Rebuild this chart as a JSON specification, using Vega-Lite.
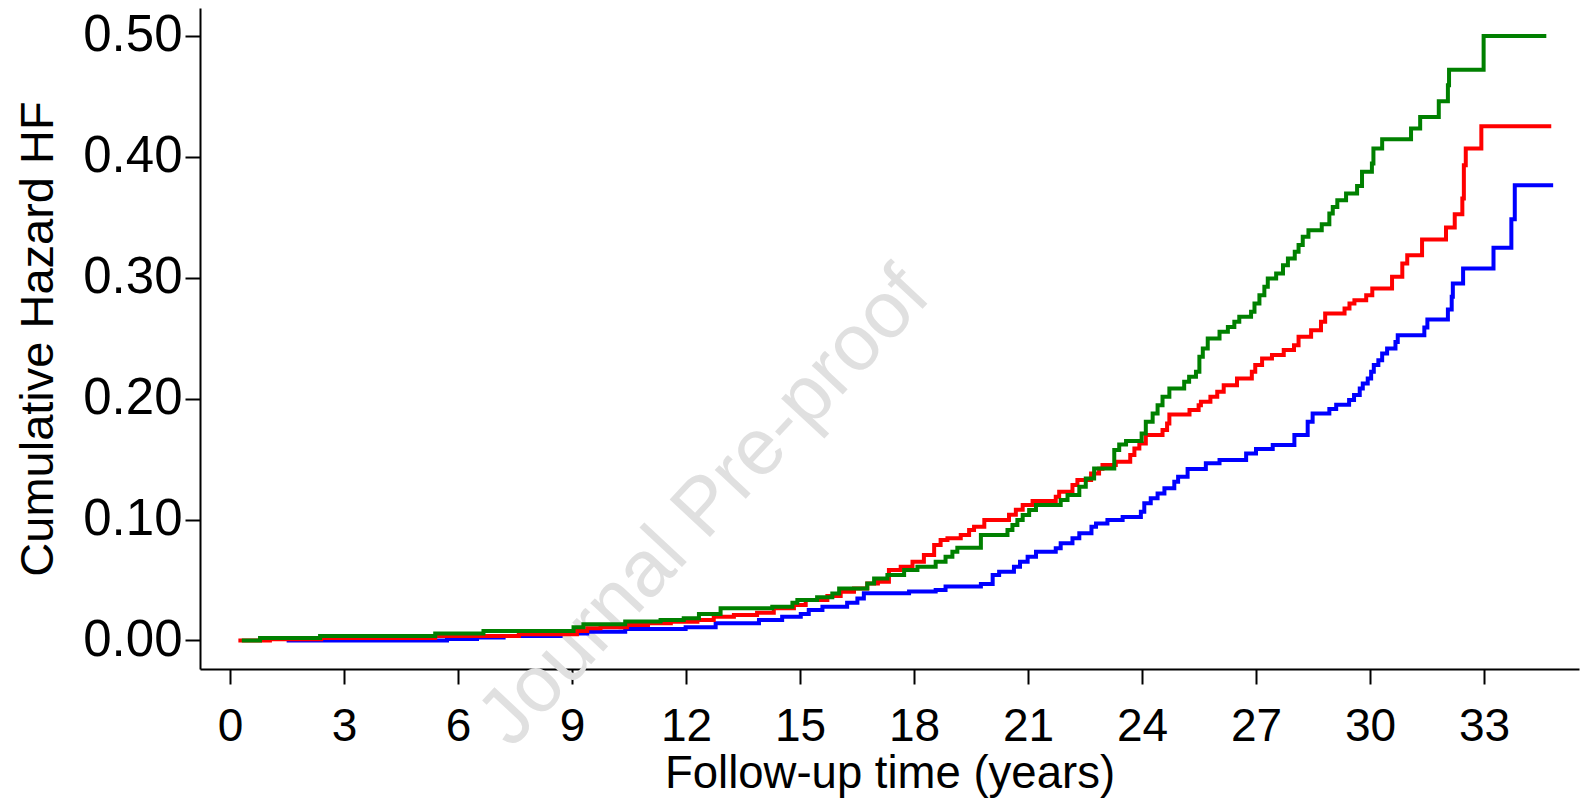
{
  "$schema": "https://vega.github.io/schema/vega-lite/v6.json",
  "width": 1379,
  "height": 661,
  "autosize": "none",
  "padding": {"left": 200, "top": 8, "right": 10, "bottom": 131},
  "background": "white",
  "config": {
    "view": {"stroke": null},
    "axis": {
      "grid": false,
      "domainColor": "black",
      "domainWidth": 2,
      "tickColor": "black",
      "tickWidth": 2,
      "tickSize": 15,
      "labelFont": "Liberation Sans",
      "labelFontSize": 46,
      "labelColor": "black",
      "titleFont": "Liberation Sans",
      "titleFontSize": 46,
      "titleFontWeight": "normal",
      "titleColor": "black"
    }
  },
  "datasets": {
    "curves": [
      {"g": "A", "t": 1.49, "v": 0},
      {"g": "A", "t": 5.71, "v": 0.0013},
      {"g": "A", "t": 6.5, "v": 0.0025},
      {"g": "A", "t": 7.2, "v": 0.0037},
      {"g": "A", "t": 8.7, "v": 0.0058},
      {"g": "A", "t": 9.4, "v": 0.0073},
      {"g": "A", "t": 10.4, "v": 0.0095},
      {"g": "A", "t": 11.99, "v": 0.0109},
      {"g": "A", "t": 12.78, "v": 0.0142},
      {"g": "A", "t": 13.92, "v": 0.0169},
      {"g": "A", "t": 14.53, "v": 0.0197},
      {"g": "A", "t": 15.02, "v": 0.0219},
      {"g": "A", "t": 15.23, "v": 0.0252},
      {"g": "A", "t": 15.59, "v": 0.0279},
      {"g": "A", "t": 16.24, "v": 0.0312},
      {"g": "A", "t": 16.51, "v": 0.0348},
      {"g": "A", "t": 16.68, "v": 0.039},
      {"g": "A", "t": 17.87, "v": 0.0404},
      {"g": "A", "t": 18.57, "v": 0.0418},
      {"g": "A", "t": 18.83, "v": 0.0446},
      {"g": "A", "t": 19.76, "v": 0.0467},
      {"g": "A", "t": 20.07, "v": 0.0541},
      {"g": "A", "t": 20.24, "v": 0.0569},
      {"g": "A", "t": 20.63, "v": 0.061},
      {"g": "A", "t": 20.79, "v": 0.0651},
      {"g": "A", "t": 20.99, "v": 0.0693},
      {"g": "A", "t": 21.21, "v": 0.0734},
      {"g": "A", "t": 21.73, "v": 0.0762},
      {"g": "A", "t": 21.86, "v": 0.0803},
      {"g": "A", "t": 22.17, "v": 0.0845},
      {"g": "A", "t": 22.35, "v": 0.0886},
      {"g": "A", "t": 22.67, "v": 0.0941},
      {"g": "A", "t": 22.79, "v": 0.0968},
      {"g": "A", "t": 23.09, "v": 0.0996},
      {"g": "A", "t": 23.49, "v": 0.1021},
      {"g": "A", "t": 23.97, "v": 0.1065},
      {"g": "A", "t": 24.06, "v": 0.1134},
      {"g": "A", "t": 24.23, "v": 0.1175},
      {"g": "A", "t": 24.41, "v": 0.1216},
      {"g": "A", "t": 24.59, "v": 0.1258},
      {"g": "A", "t": 24.85, "v": 0.1313},
      {"g": "A", "t": 24.95, "v": 0.1354},
      {"g": "A", "t": 25.2, "v": 0.1418},
      {"g": "A", "t": 25.68, "v": 0.1465},
      {"g": "A", "t": 26.04, "v": 0.1492},
      {"g": "A", "t": 26.74, "v": 0.1547},
      {"g": "A", "t": 27.0, "v": 0.1583},
      {"g": "A", "t": 27.44, "v": 0.1616},
      {"g": "A", "t": 28.01, "v": 0.1698},
      {"g": "A", "t": 28.36, "v": 0.1808},
      {"g": "A", "t": 28.49, "v": 0.1877},
      {"g": "A", "t": 28.93, "v": 0.1915},
      {"g": "A", "t": 29.11, "v": 0.195},
      {"g": "A", "t": 29.45, "v": 0.1988},
      {"g": "A", "t": 29.58, "v": 0.2029},
      {"g": "A", "t": 29.73, "v": 0.2084},
      {"g": "A", "t": 29.81, "v": 0.2125},
      {"g": "A", "t": 29.94, "v": 0.2166},
      {"g": "A", "t": 30.03, "v": 0.2222},
      {"g": "A", "t": 30.1, "v": 0.2277},
      {"g": "A", "t": 30.22, "v": 0.2318},
      {"g": "A", "t": 30.32, "v": 0.2373},
      {"g": "A", "t": 30.45, "v": 0.2414},
      {"g": "A", "t": 30.67, "v": 0.2469},
      {"g": "A", "t": 30.73, "v": 0.2524},
      {"g": "A", "t": 31.43, "v": 0.2588},
      {"g": "A", "t": 31.51, "v": 0.2654},
      {"g": "A", "t": 32.05, "v": 0.2737},
      {"g": "A", "t": 32.15, "v": 0.2842},
      {"g": "A", "t": 32.18, "v": 0.2952},
      {"g": "A", "t": 32.45, "v": 0.3076},
      {"g": "A", "t": 33.25, "v": 0.3247},
      {"g": "A", "t": 33.72, "v": 0.3483},
      {"g": "A", "t": 33.81, "v": 0.3764},
      {"g": "A", "t": 34.82, "v": 0.3764},

      {"g": "B", "t": 0.22, "v": 0},
      {"g": "B", "t": 1.05, "v": 0.001},
      {"g": "B", "t": 2.4, "v": 0.002},
      {"g": "B", "t": 5.4, "v": 0.0037},
      {"g": "B", "t": 7.6, "v": 0.0051},
      {"g": "B", "t": 9.13, "v": 0.0078},
      {"g": "B", "t": 9.4, "v": 0.0101},
      {"g": "B", "t": 9.75, "v": 0.0109},
      {"g": "B", "t": 10.45, "v": 0.0128},
      {"g": "B", "t": 11.0, "v": 0.0142},
      {"g": "B", "t": 11.6, "v": 0.0155},
      {"g": "B", "t": 12.3, "v": 0.0169},
      {"g": "B", "t": 12.73, "v": 0.0197},
      {"g": "B", "t": 13.26, "v": 0.021},
      {"g": "B", "t": 13.87, "v": 0.023},
      {"g": "B", "t": 14.31, "v": 0.0266},
      {"g": "B", "t": 14.84, "v": 0.0293},
      {"g": "B", "t": 15.15, "v": 0.0335},
      {"g": "B", "t": 15.72, "v": 0.0368},
      {"g": "B", "t": 16.07, "v": 0.0403},
      {"g": "B", "t": 16.42, "v": 0.043},
      {"g": "B", "t": 16.77, "v": 0.0472},
      {"g": "B", "t": 17.05, "v": 0.0486},
      {"g": "B", "t": 17.34, "v": 0.0583},
      {"g": "B", "t": 17.65, "v": 0.061},
      {"g": "B", "t": 17.96, "v": 0.0651},
      {"g": "B", "t": 18.26, "v": 0.0707},
      {"g": "B", "t": 18.53, "v": 0.079},
      {"g": "B", "t": 18.7, "v": 0.0831},
      {"g": "B", "t": 18.88, "v": 0.0845},
      {"g": "B", "t": 19.23, "v": 0.0872},
      {"g": "B", "t": 19.45, "v": 0.0913},
      {"g": "B", "t": 19.58, "v": 0.0941},
      {"g": "B", "t": 19.85, "v": 0.0996},
      {"g": "B", "t": 20.5, "v": 0.104},
      {"g": "B", "t": 20.68, "v": 0.108},
      {"g": "B", "t": 20.86, "v": 0.112},
      {"g": "B", "t": 21.12, "v": 0.1153},
      {"g": "B", "t": 21.73, "v": 0.1188},
      {"g": "B", "t": 21.82, "v": 0.123},
      {"g": "B", "t": 22.17, "v": 0.1285},
      {"g": "B", "t": 22.3, "v": 0.1326},
      {"g": "B", "t": 22.66, "v": 0.138},
      {"g": "B", "t": 22.87, "v": 0.142},
      {"g": "B", "t": 22.96, "v": 0.145},
      {"g": "B", "t": 23.31, "v": 0.1478},
      {"g": "B", "t": 23.69, "v": 0.1533},
      {"g": "B", "t": 23.8, "v": 0.1588},
      {"g": "B", "t": 23.93, "v": 0.1629},
      {"g": "B", "t": 24.1, "v": 0.1698},
      {"g": "B", "t": 24.54, "v": 0.174},
      {"g": "B", "t": 24.66, "v": 0.1795},
      {"g": "B", "t": 24.72, "v": 0.1869},
      {"g": "B", "t": 25.25, "v": 0.1905},
      {"g": "B", "t": 25.49, "v": 0.1946},
      {"g": "B", "t": 25.55, "v": 0.1974},
      {"g": "B", "t": 25.8, "v": 0.2015},
      {"g": "B", "t": 25.98, "v": 0.2056},
      {"g": "B", "t": 26.15, "v": 0.2111},
      {"g": "B", "t": 26.5, "v": 0.2166},
      {"g": "B", "t": 26.89, "v": 0.2222},
      {"g": "B", "t": 26.98, "v": 0.2277},
      {"g": "B", "t": 27.16, "v": 0.2332},
      {"g": "B", "t": 27.42, "v": 0.236},
      {"g": "B", "t": 27.73, "v": 0.2401},
      {"g": "B", "t": 28.0, "v": 0.2442},
      {"g": "B", "t": 28.12, "v": 0.2511},
      {"g": "B", "t": 28.45, "v": 0.2566},
      {"g": "B", "t": 28.71, "v": 0.2635},
      {"g": "B", "t": 28.82, "v": 0.2704},
      {"g": "B", "t": 29.33, "v": 0.2745},
      {"g": "B", "t": 29.46, "v": 0.2786},
      {"g": "B", "t": 29.59, "v": 0.2814},
      {"g": "B", "t": 29.9, "v": 0.2855},
      {"g": "B", "t": 30.06, "v": 0.291},
      {"g": "B", "t": 30.58, "v": 0.3007},
      {"g": "B", "t": 30.85, "v": 0.3117},
      {"g": "B", "t": 30.98, "v": 0.3186},
      {"g": "B", "t": 31.37, "v": 0.3315},
      {"g": "B", "t": 32.0, "v": 0.3415},
      {"g": "B", "t": 32.23, "v": 0.3525},
      {"g": "B", "t": 32.43, "v": 0.3655},
      {"g": "B", "t": 32.47, "v": 0.393},
      {"g": "B", "t": 32.52, "v": 0.4068},
      {"g": "B", "t": 32.93, "v": 0.4252},
      {"g": "B", "t": 34.77, "v": 0.4252},

      {"g": "C", "t": 0.31, "v": 0},
      {"g": "C", "t": 0.79, "v": 0.0021},
      {"g": "C", "t": 2.37, "v": 0.0037},
      {"g": "C", "t": 5.4, "v": 0.0058},
      {"g": "C", "t": 6.67, "v": 0.0078},
      {"g": "C", "t": 9.04, "v": 0.011},
      {"g": "C", "t": 9.3, "v": 0.0134},
      {"g": "C", "t": 10.4, "v": 0.0156},
      {"g": "C", "t": 11.33, "v": 0.0169},
      {"g": "C", "t": 11.94, "v": 0.0183},
      {"g": "C", "t": 12.34, "v": 0.0219},
      {"g": "C", "t": 12.91, "v": 0.0266},
      {"g": "C", "t": 14.27, "v": 0.0279},
      {"g": "C", "t": 14.8, "v": 0.0312},
      {"g": "C", "t": 14.93, "v": 0.0335},
      {"g": "C", "t": 15.45, "v": 0.0357},
      {"g": "C", "t": 15.85, "v": 0.0389},
      {"g": "C", "t": 16.03, "v": 0.043},
      {"g": "C", "t": 16.77, "v": 0.0472},
      {"g": "C", "t": 16.95, "v": 0.0513},
      {"g": "C", "t": 17.3, "v": 0.0541},
      {"g": "C", "t": 17.74, "v": 0.0583},
      {"g": "C", "t": 18.09, "v": 0.061},
      {"g": "C", "t": 18.57, "v": 0.0651},
      {"g": "C", "t": 18.83, "v": 0.0693},
      {"g": "C", "t": 19.01, "v": 0.0734},
      {"g": "C", "t": 19.14, "v": 0.0767},
      {"g": "C", "t": 19.76, "v": 0.0872},
      {"g": "C", "t": 20.46, "v": 0.0913},
      {"g": "C", "t": 20.59, "v": 0.0955},
      {"g": "C", "t": 20.72, "v": 0.0996},
      {"g": "C", "t": 20.86, "v": 0.1037},
      {"g": "C", "t": 21.03, "v": 0.1078},
      {"g": "C", "t": 21.21, "v": 0.112},
      {"g": "C", "t": 21.86, "v": 0.1161},
      {"g": "C", "t": 22.04, "v": 0.1202},
      {"g": "C", "t": 22.35, "v": 0.1271},
      {"g": "C", "t": 22.52, "v": 0.134},
      {"g": "C", "t": 22.74, "v": 0.1423},
      {"g": "C", "t": 23.27, "v": 0.1575},
      {"g": "C", "t": 23.4, "v": 0.162},
      {"g": "C", "t": 23.58, "v": 0.1649},
      {"g": "C", "t": 23.99, "v": 0.1712},
      {"g": "C", "t": 24.1, "v": 0.1808},
      {"g": "C", "t": 24.28, "v": 0.1877},
      {"g": "C", "t": 24.41, "v": 0.1946},
      {"g": "C", "t": 24.54, "v": 0.2015},
      {"g": "C", "t": 24.72, "v": 0.2084},
      {"g": "C", "t": 25.11, "v": 0.2139},
      {"g": "C", "t": 25.24, "v": 0.2181},
      {"g": "C", "t": 25.42, "v": 0.2222},
      {"g": "C", "t": 25.51, "v": 0.2346},
      {"g": "C", "t": 25.6, "v": 0.2414},
      {"g": "C", "t": 25.73, "v": 0.2497},
      {"g": "C", "t": 26.04, "v": 0.2552},
      {"g": "C", "t": 26.26, "v": 0.2593},
      {"g": "C", "t": 26.43, "v": 0.2635},
      {"g": "C", "t": 26.56, "v": 0.2676},
      {"g": "C", "t": 26.87, "v": 0.2718},
      {"g": "C", "t": 26.96, "v": 0.2786},
      {"g": "C", "t": 27.09, "v": 0.2855},
      {"g": "C", "t": 27.22, "v": 0.2924},
      {"g": "C", "t": 27.31, "v": 0.2993},
      {"g": "C", "t": 27.53, "v": 0.3034},
      {"g": "C", "t": 27.71, "v": 0.3103},
      {"g": "C", "t": 27.84, "v": 0.3158},
      {"g": "C", "t": 28.02, "v": 0.3214},
      {"g": "C", "t": 28.12, "v": 0.327},
      {"g": "C", "t": 28.23, "v": 0.3338},
      {"g": "C", "t": 28.38, "v": 0.3393},
      {"g": "C", "t": 28.73, "v": 0.3442},
      {"g": "C", "t": 28.93, "v": 0.353},
      {"g": "C", "t": 29.02, "v": 0.3585},
      {"g": "C", "t": 29.14, "v": 0.364},
      {"g": "C", "t": 29.37, "v": 0.3696},
      {"g": "C", "t": 29.66, "v": 0.3759},
      {"g": "C", "t": 29.79, "v": 0.3875},
      {"g": "C", "t": 30.05, "v": 0.3944},
      {"g": "C", "t": 30.09, "v": 0.4068},
      {"g": "C", "t": 30.32, "v": 0.4145},
      {"g": "C", "t": 31.08, "v": 0.4233},
      {"g": "C", "t": 31.32, "v": 0.4329},
      {"g": "C", "t": 31.81, "v": 0.4459},
      {"g": "C", "t": 32.05, "v": 0.4591},
      {"g": "C", "t": 32.08, "v": 0.472},
      {"g": "C", "t": 32.99, "v": 0.4999},
      {"g": "C", "t": 34.64, "v": 0.4999}
    ],
    "wm": [{"t": 12.49, "v": 0.11, "label": "Journal Pre-proof"}]
  },
  "layer": [
    {
      "data": {"name": "wm"},
      "mark": {"type": "text", "angle": -47, "fontSize": 80, "font": "Liberation Sans", "color": "#e0e0e0", "align": "center", "baseline": "middle"},
      "encoding": {
        "x": {"field": "t", "type": "quantitative", "scale": {"domain": [-0.79, 35.5], "nice": false, "zero": false}},
        "y": {"field": "v", "type": "quantitative", "scale": {"domain": [-0.0236, 0.523], "nice": false, "zero": false}},
        "text": {"field": "label"}
      }
    },
    {
      "data": {"name": "curves"},
      "mark": {"type": "line", "interpolate": "step-after", "strokeWidth": 4, "strokeJoin": "miter", "strokeCap": "butt"},
      "encoding": {
        "x": {
          "field": "t", "type": "quantitative",
          "scale": {"domain": [-0.79, 35.5], "nice": false, "zero": false},
          "axis": {"values": [0, 3, 6, 9, 12, 15, 18, 21, 24, 27, 30, 33], "labelPadding": 20, "title": "Follow-up time (years)", "titleFontSize": 45.5, "titlePadding": 2, "labelFlush": false}
        },
        "y": {
          "field": "v", "type": "quantitative",
          "scale": {"domain": [-0.0236, 0.523], "nice": false, "zero": false},
          "axis": {"values": [0, 0.1, 0.2, 0.3, 0.4, 0.5], "format": ".2f", "labelFontSize": 51, "labelPadding": 3, "title": "Cumulative Hazard HF", "titleFontSize": 47, "titlePadding": 20}
        },
        "color": {"field": "g", "type": "nominal", "scale": {"domain": ["A", "B", "C"], "range": ["#0000ff", "#ff0000", "#008000"]}, "legend": null}
      }
    }
  ]
}
